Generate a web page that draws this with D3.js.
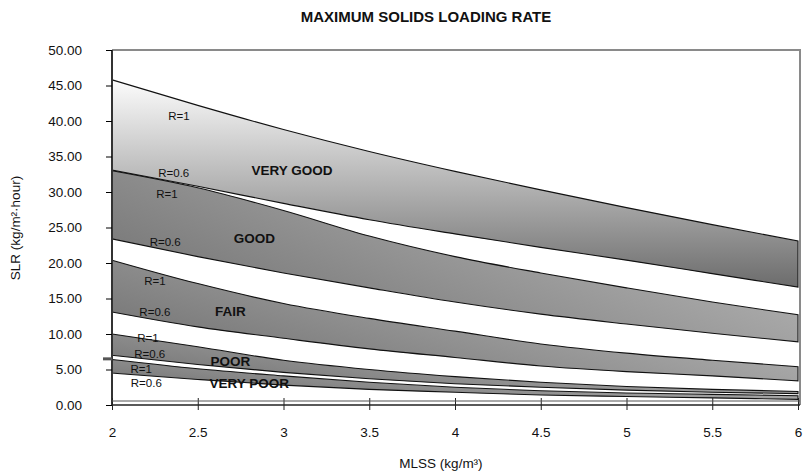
<!DOCTYPE html>
<html>
<head>
<meta charset="utf-8">
<script src="https://cdnjs.cloudflare.com/ajax/libs/d3/7.8.5/d3.min.js"></script>
<style>
  body { margin: 0; background: #fff; }
  text { font-family: "Liberation Sans", Arial, Helvetica, sans-serif; fill: #111; }
</style>
</head>
<body>
<div id="chart"></div>
<script>
// chart data
var mlss = [2, 2.5, 3, 3.5, 4, 4.5, 5, 5.5, 6];

var veryGoodR1  = [45.8, 42.2, 38.8, 35.7, 32.9, 30.3, 27.8, 25.4, 23.1];
var veryGoodR06 = [33.1, 30.8, 28.4, 26.1, 24.1, 22.2, 20.4, 18.5, 16.6];
var goodR1      = [33.0, 30.6, 27.4, 23.8, 20.9, 18.6, 16.5, 14.5, 12.7];
var goodR06     = [23.4, 20.9, 18.6, 16.5, 14.5, 12.8, 11.4, 10.1, 8.9];
var fairR1      = [20.4, 17.1, 14.3, 12.2, 10.4, 8.6, 7.3, 6.3, 5.4];
var fairR06     = [13.1, 11.0, 9.4, 7.9, 6.7, 5.5, 4.7, 4.1, 3.4];
var poorR1      = [10.0, 8.2, 6.3, 5.0, 4.0, 3.2, 2.6, 2.2, 1.9];
var poorR06     = [7.0, 5.7, 4.6, 3.7, 3.0, 2.5, 2.1, 1.8, 1.6];
var veryPoorR1  = [6.4, 5.1, 4.1, 3.2, 2.5, 2.0, 1.7, 1.5, 1.3];
var veryPoorR06 = [4.5, 3.6, 2.8, 2.2, 1.8, 1.4, 1.2, 1.0, 0.8];

var bandNames = ["VERY GOOD", "GOOD", "FAIR", "POOR", "VERY POOR"];
// where each band name sits, in chart units (mlss, slr)
var bandLabelAt = [[3.05, 33.1], [2.83, 23.5], [2.69, 13.2], [2.69, 6.2], [2.80, 3.1]];
// where the R=1 / R=0.6 notes sit, in chart units
var rLabelAt = [[2.39, 40.7], [2.36, 32.7], [2.32, 29.7], [2.31, 23.0], [2.25, 17.5],
                [2.25, 13.1], [2.21, 9.4], [2.22, 7.2], [2.17, 5.1], [2.20, 3.1]];

var xTicks = [2, 2.5, 3, 3.5, 4, 4.5, 5, 5.5, 6];
var yTicks = [0, 5, 10, 15, 20, 25, 30, 35, 40, 45, 50];

// svg params
var svgWidth = 805;
var svgHeight = 473;
var margin = { top: 50, right: 7, bottom: 68, left: 112 };
var width = 798 - margin.left;
var height = svgHeight - margin.top - margin.bottom;

var svg = d3.select("#chart").append("svg")
  .attr("width", svgWidth)
  .attr("height", svgHeight);

// gradients for the bands
var defs = svg.append("defs");
var gTop = defs.append("linearGradient").attr("id", "gradTop")
  .attr("x1", 0).attr("y1", 0).attr("x2", 0).attr("y2", 1);
gTop.append("stop").attr("offset", "0%").attr("stop-color", "#fcfcfc");
gTop.append("stop").attr("offset", "100%").attr("stop-color", "#6c6c6c");

var gSide = defs.append("linearGradient").attr("id", "gradSide")
  .attr("x1", 0).attr("y1", 0.6).attr("x2", 1).attr("y2", 0);
gSide.append("stop").attr("offset", "0%").attr("stop-color", "#767676");
gSide.append("stop").attr("offset", "100%").attr("stop-color", "#c6c6c6");

var chartGroup = svg.append("g")
  .attr("transform", `translate(${margin.left}, ${margin.top})`);

// Step 1: scales
var xScale = d3.scaleLinear().domain([2, 6]).range([0, width]);
var yScale = d3.scaleLinear().domain([0, 50]).range([height, 0]);

// Step 2: band table built from the arrays
var upper = [veryGoodR1, goodR1, fairR1, poorR1, veryPoorR1];
var lower = [veryGoodR06, goodR06, fairR06, poorR06, veryPoorR06];
var bands = bandNames.map(function(name, i) {
  return {
    name: name,
    fill: i === 0 ? "url(#gradTop)" : "url(#gradSide)",
    pts: mlss.map(function(m, j) { return { m: m, hi: upper[i][j], lo: lower[i][j] }; })
  };
});

var area = d3.area()
  .x(d => xScale(d.m))
  .y0(d => yScale(d.lo))
  .y1(d => yScale(d.hi))
  .curve(d3.curveMonotoneX);

// plot frame (grey top and right)
chartGroup.append("path")
  .attr("d", `M0,0H${width + 2}V${height}`)
  .attr("fill", "none")
  .attr("stroke", "#8a8a8a")
  .attr("stroke-width", 2);

// Step 3: band fills
chartGroup.selectAll(".band")
  .data(bands)
  .enter()
  .append("path")
  .attr("class", "band")
  .attr("d", d => area(d.pts))
  .attr("fill", d => d.fill);

// Step 4: labels
chartGroup.selectAll(".bandLabel")
  .data(bands)
  .enter()
  .append("text")
  .attr("class", "bandLabel")
  .attr("x", (d, i) => xScale(bandLabelAt[i][0]))
  .attr("y", (d, i) => yScale(bandLabelAt[i][1]))
  .attr("dy", "0.36em")
  .attr("text-anchor", "middle")
  .attr("font-size", "13.5px")
  .attr("font-weight", "bold")
  .text(d => d.name);

chartGroup.selectAll(".rLabel")
  .data(rLabelAt)
  .enter()
  .append("text")
  .attr("class", "rLabel")
  .attr("x", d => xScale(d[0]))
  .attr("y", d => yScale(d[1]))
  .attr("dy", "0.36em")
  .attr("text-anchor", "middle")
  .attr("font-size", "11.5px")
  .text((d, i) => i % 2 === 0 ? "R=1" : "R=0.6");

// Step 5: band outlines on top
chartGroup.selectAll(".bandEdge")
  .data(bands)
  .enter()
  .append("path")
  .attr("class", "bandEdge")
  .attr("d", d => area(d.pts))
  .attr("fill", "none")
  .attr("stroke", "#111")
  .attr("stroke-width", 1.1);

// Step 6: axes
var leftAxis = d3.axisLeft(yScale)
  .tickValues(yTicks)
  .tickFormat(d3.format(".2f"))
  .tickSize(6)
  .tickPadding(24);

var bottomAxis = d3.axisBottom(xScale)
  .tickValues(xTicks)
  .tickFormat(d => d)
  .tickSize(5)
  .tickPadding(17);

var yAxisG = chartGroup.append("g").call(leftAxis);
yAxisG.select(".domain").attr("stroke", "#333").attr("stroke-width", 2)
  .attr("d", `M0,0V${height}`);
yAxisG.selectAll("text").attr("font-size", "13.5px").attr("fill", "#111")
  .attr("font-family", "'Liberation Sans', Arial, sans-serif");

var xAxisG = chartGroup.append("g")
  .attr("transform", `translate(0, ${height})`)
  .call(bottomAxis);
xAxisG.select(".domain").attr("stroke", "#222").attr("stroke-width", 1.5)
  .attr("d", `M0,0H${width + 2}`);
xAxisG.selectAll(".tick line").attr("y1", -7).attr("stroke", "#222");
xAxisG.selectAll("text").attr("font-size", "13.5px").attr("fill", "#111")
  .attr("font-family", "'Liberation Sans', Arial, sans-serif");

// second grey rule just above the x axis
chartGroup.append("line")
  .attr("x1", 0).attr("x2", width + 2)
  .attr("y1", height - 4).attr("y2", height - 4)
  .attr("stroke", "#555")
  .attr("stroke-width", 1.2);

// stray mark left of the y axis
chartGroup.append("line")
  .attr("x1", -9).attr("x2", 0)
  .attr("y1", yScale(6.5)).attr("y2", yScale(6.5))
  .attr("stroke", "#555")
  .attr("stroke-width", 3);

// Step 7: titles
svg.append("text")
  .attr("x", 426)
  .attr("y", 22)
  .attr("text-anchor", "middle")
  .attr("font-size", "15px")
  .attr("font-weight", "bold")
  .text("MAXIMUM SOLIDS LOADING RATE");

svg.append("text")
  .attr("x", 441)
  .attr("y", 468)
  .attr("text-anchor", "middle")
  .attr("font-size", "13.5px")
  .text("MLSS (kg/m³)");

svg.append("text")
  .attr("transform", "translate(20, 228) rotate(-90)")
  .attr("text-anchor", "middle")
  .attr("font-size", "13.5px")
  .text("SLR (kg/m²·hour)");
</script>
</body>
</html>
